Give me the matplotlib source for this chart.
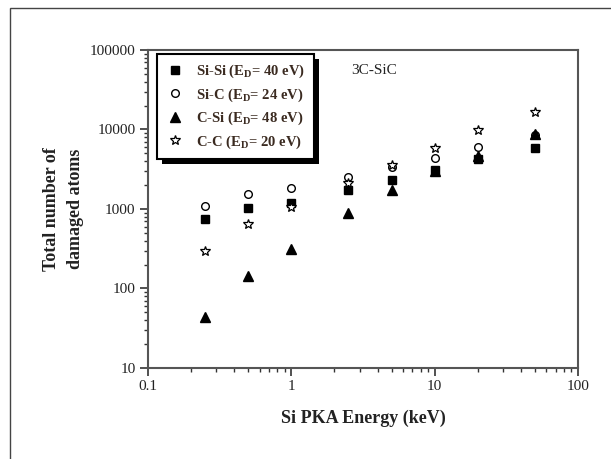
import matplotlib
matplotlib.use("Agg")
import matplotlib.pyplot as plt
from matplotlib.patches import Rectangle
from matplotlib.transforms import IdentityTransform
from matplotlib.ticker import FuncFormatter, LogLocator

plt.rcParams['font.family'] = ['Liberation Serif', 'DejaVu Serif']
plt.rcParams['mathtext.fontset'] = 'custom'
plt.rcParams['mathtext.rm'] = 'Liberation Serif:bold'
plt.rcParams['mathtext.bf'] = 'Liberation Serif:bold'

# PKA energies (keV)
energy = [0.25, 0.5, 1, 2.5, 5, 10, 20, 50]

# total number of damaged atoms for each threshold-energy set
si_si = [740, 1020, 1200, 1750, 2300, 3100, 4200, 5800]
si_c = [1100, 1550, 1850, 2500, 3400, 4400, 6000, 8500]
c_si = [44, 145, 310, 880, 1750, 3000, 4700, 8700]
c_c = [300, 650, 1050, 2100, 3600, 5800, 9800, 16500]

labels = [r'Si-Si (E$_{\mathrm{D}}$= 40 eV)',
          r'Si-C (E$_{\mathrm{D}}$= 24 eV)',
          r'C-Si (E$_{\mathrm{D}}$= 48 eV)',
          r'C-C (E$_{\mathrm{D}}$= 20 eV)']

fig = plt.figure(figsize=(6.11, 4.59), dpi=100)
ax = fig.add_axes([0.2422, 0.1983, 0.7038, 0.6928])

# outer frame of the picture
fig.add_artist(Rectangle((10 / 611, -0.05), 1.0, 1 - 8 / 459 + 0.05,
                         transform=fig.transFigure, fill=False,
                         edgecolor='#444444', linewidth=1.0))

ax.plot(energy, si_si, 's', color='black', markersize=5.5, label=labels[0])
ax.plot(energy, si_c, 'o', markerfacecolor='white', markeredgecolor='black',
        markeredgewidth=1.0, markersize=5.5, label=labels[1])
ax.plot(energy, c_si, '^', color='black', markersize=6.5, label=labels[2])
ax.plot(energy, c_c, '*', markerfacecolor='white', markeredgecolor='black',
        markeredgewidth=0.9, markersize=7.5, label=labels[3])

ax.set_xscale('log')
ax.set_yscale('log')
ax.set_xlim(0.1, 100)
ax.set_ylim(10, 100000)

fmt = FuncFormatter(lambda v, p: f'{v:g}')
ax.xaxis.set_major_formatter(fmt)
ax.yaxis.set_major_formatter(fmt)
ax.xaxis.set_minor_locator(LogLocator(base=10, subs=range(2, 10), numticks=20))
ax.yaxis.set_minor_locator(LogLocator(base=10, subs=range(2, 10), numticks=20))
ax.xaxis.set_minor_formatter(plt.NullFormatter())
ax.yaxis.set_minor_formatter(plt.NullFormatter())

ax.tick_params(which='major', direction='out', length=6, width=1.2,
               color='#333333', labelsize=11, labelcolor='#222222', pad=3)
ax.tick_params(which='minor', direction='out', length=3, width=1.0,
               color='#333333')
ax.tick_params(top=False, right=False)
for sp in ax.spines.values():
    sp.set_color('#555555')
    sp.set_linewidth(1.5)

ax.set_xlabel('Si PKA Energy (keV)', fontsize=13, fontweight='bold',
              color='#222222', labelpad=12)
ax.set_ylabel('Total number of\ndamaged atoms', fontsize=13, fontweight='bold',
              color='#222222', labelpad=4, linespacing=1.55)

ax.text(0.526, 0.937, '3C-SiC', transform=ax.transAxes, fontsize=11,
        ha='center', va='center', color='#222222')

leg = ax.legend(loc='upper left', bbox_to_anchor=(0.021, 0.987),
                prop={'size': 10.5, 'weight': 'bold'}, fancybox=False,
                frameon=True, framealpha=1, facecolor='white',
                borderaxespad=0, labelspacing=0.42,
                handletextpad=0.9, handlelength=1.2, borderpad=0.6,
                labelcolor='#3a2a20')
leg.get_frame().set_edgecolor('black')
leg.get_frame().set_linewidth(1.5)

# black drop shadow behind the legend
fig.canvas.draw()
bb = leg.get_window_extent()
shadow = Rectangle((bb.x0 + 5, bb.y0 - 5), bb.width, bb.height,
                   transform=IdentityTransform(), facecolor='black',
                   edgecolor='none', zorder=4.9)
ax.add_artist(shadow)

fig.savefig('out.png', dpi=100)
